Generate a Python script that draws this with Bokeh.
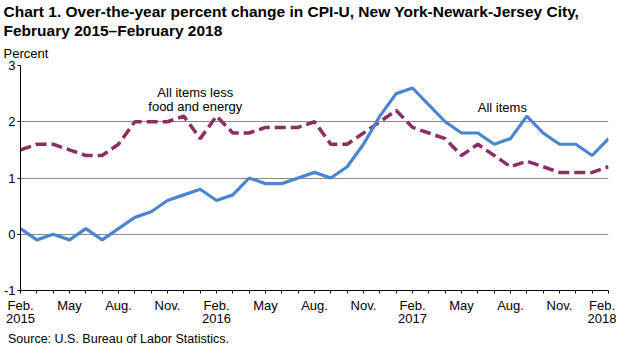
from bokeh.plotting import figure
from bokeh.models import Range1d, FixedTicker, Title, Label, LinearAxis
from bokeh.embed import file_html
from bokeh.resources import INLINE

# Months Feb 2015 .. Feb 2018 (index 0..36)
tick_labels = ["Feb.\n2015", "", "", "May", "", "", "Aug.", "", "", "Nov.", "", "",
               "Feb.\n2016", "", "", "May", "", "", "Aug.", "", "", "Nov.", "", "",
               "Feb.\n2017", "", "", "May", "", "", "Aug.", "", "", "Nov.", "", "",
               "Feb.\n2018"]

all_items = [0.1, -0.1, 0.0, -0.1, 0.1, -0.1, 0.1, 0.3, 0.4, 0.6, 0.7, 0.8,
             0.6, 0.7, 1.0, 0.9, 0.9, 1.0, 1.1, 1.0, 1.2, 1.6, 2.1, 2.5,
             2.6, 2.3, 2.0, 1.8, 1.8, 1.6, 1.7, 2.1, 1.8, 1.6, 1.6, 1.4,
             1.7]

core = [1.5, 1.6, 1.6, 1.5, 1.4, 1.4, 1.6, 2.0, 2.0, 2.0, 2.1, 1.7,
        2.1, 1.8, 1.8, 1.9, 1.9, 1.9, 2.0, 1.6, 1.6, 1.8, 2.0, 2.2,
        1.9, 1.8, 1.7, 1.4, 1.6, 1.4, 1.2, 1.3, 1.2, 1.1, 1.1, 1.1,
        1.2]

y_ticks = [-1, 0, 1, 2, 3]
y_tick_labels = ["-1", "0", "1", "2", "3"]

SOURCE = "Source: U.S. Bureau of Labor Statistics."

FONT = "Liberation Sans"
x = list(range(len(tick_labels)))

p = figure(width=616, height=348, x_range=Range1d(0, 36), y_range=Range1d(-1, 3),
           output_backend="svg", toolbar_location=None, title=None,
           min_border_left=17, min_border_right=8, min_border_top=0, min_border_bottom=0)
p.outline_line_color = None
p.background_fill_color = "white"
p.border_fill_color = "white"

p.line(x, core, line_color="#8b2f62", line_width=3.5, line_dash="11 5")
p.line(x, all_items, line_color="#4a86d0", line_width=3.2)

# axes
xa = p.xaxis[0]
xa.ticker = FixedTicker(ticks=x)
xa.major_label_overrides = {i: t for i, t in zip(x, tick_labels)}
xa.minor_tick_line_color = None
xa.major_tick_in = 0
xa.major_tick_out = 3
xa.major_label_standoff = 4
xa.axis_line_color = "black"
xa.major_tick_line_color = "black"
xa.major_label_text_font = FONT
xa.major_label_text_font_size = "13px"
xa.major_label_text_color = "black"
xa.major_label_text_line_height = 0.9

ya = p.yaxis[0]
ya.ticker = FixedTicker(ticks=y_ticks)
ya.major_label_overrides = {t: s for t, s in zip(y_ticks, y_tick_labels)}
ya.minor_tick_line_color = None
ya.major_tick_in = 0
ya.major_tick_out = 3
ya.major_label_standoff = 2
ya.axis_line_color = "black"
ya.major_tick_line_color = "black"
ya.major_label_text_font = FONT
ya.major_label_text_font_size = "13px"
ya.major_label_text_color = "black"

p.xgrid.grid_line_color = None
p.ygrid.ticker = FixedTicker(ticks=y_ticks)
p.ygrid.grid_line_color = "#8a8a8a"
p.ygrid.grid_line_width = 1

# series labels
for txt, xx, yy in [("All items less", 10.7, 2.52), ("food and energy", 10.7, 2.27),
                    ("All items", 29.5, 2.25)]:
    p.add_layout(Label(x=xx, y=yy, text=txt, text_align="center", text_baseline="middle",
                       text_font=FONT, text_font_size="13px", text_color="black"))

# titles (first added is closest to plot)
p.add_layout(Title(text="Percent", align="left", offset=-17, standoff=10,
                   text_font=FONT, text_font_size="13px", text_font_style="normal",
                   text_color="black"), "above")
p.add_layout(Title(text="February 2015\u2013February 2018", align="left", offset=-17, standoff=0,
                   text_font=FONT, text_font_size="15.5px", text_font_style="bold",
                   text_color="black"), "above")
p.add_layout(Title(text="Chart 1. Over-the-year percent change in CPI-U, New York-Newark-Jersey City,",
                   align="left", offset=-17, standoff=0,
                   text_font=FONT, text_font_size="15.5px", text_font_style="bold",
                   text_color="black"), "above")

# source note: an extra bare axis below, its single label centred under month 6
src_axis = LinearAxis(ticker=FixedTicker(ticks=[6]), major_label_overrides={6: SOURCE},
                      axis_line_color=None, major_tick_line_color=None,
                      minor_tick_line_color=None, major_tick_in=0, major_tick_out=0,
                      major_label_standoff=2, major_label_text_font=FONT,
                      major_label_text_font_size="12.5px", major_label_text_color="black",
                      major_label_text_line_height=0.5)
p.add_layout(src_axis, "below")

open("out.html", "w").write(file_html(p, INLINE))
